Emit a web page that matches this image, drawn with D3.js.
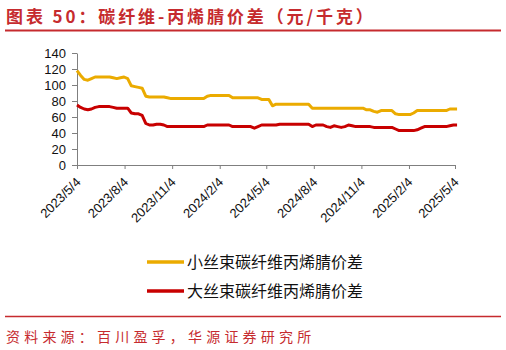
<!DOCTYPE html>
<html>
<head>
<meta charset="utf-8">
<script src="https://cdn.jsdelivr.net/npm/d3@7"></script>
<style>
  html, body { margin: 0; padding: 0; background: #fff; }
  svg { display: block; }
</style>
</head>
<body>
<svg id="chart" width="506" height="350"></svg>
<script>
// ---- Data ----
const startDate = "2023-05-04";   // weekly observations (Thursdays)
const smallTowSpread = [
  118,112,107,106,108,110,110,110,110,110,
  109,108,109,110,108,99,98,97,96,86,
  85,85,85,85,85,84,83,83,83,83,
  83,83,83,83,83,83,86,87,87,87,
  87,87,87,84,84,84,84,84,84,84,
  84,82,82,82,74,76,76,76,76,76,
  76,76,76,76,76,71,71,71,71,71,
  71,71,71,71,71,71,71,71,71,71,
  69,69,67,66,68,68,68,68,64,63,
  63,63,63,65,68,68,68,68,68,68,
  68,68,68,70,70,70
];
const largeTowSpread = [
  75,72,70,69,70,72,73,73,73,73,
  72,71,71,71,71,65,64,64,62,52,
  50,50,51,51,50,48,48,48,48,48,
  48,48,48,48,48,48,50,50,50,50,
  50,50,50,48,48,48,48,48,48,46,
  48,50,50,50,50,50,51,51,51,51,
  51,51,51,51,51,48,50,50,50,48,
  47,49,48,47,48,50,49,48,48,48,
  48,48,47,47,47,47,47,47,45,43,
  43,43,43,43,44,46,48,48,48,48,
  48,48,48,49,50,50
];
const seriesNames = ["小丝束碳纤维丙烯腈价差", "大丝束碳纤维丙烯腈价差"];
const seriesColors = ["#EBAB00", "#C80000"];
const xTickLabels = ["2023/5/4","2023/8/4","2023/11/4","2024/2/4","2024/5/4","2024/8/4","2024/11/4","2025/2/4","2025/5/4"];
const yTicks = [0,20,40,60,80,100,120,140];
const titleText = "图表 50：碳纤维-丙烯腈价差（元/千克）";
const sourceText = "资料来源：百川盈孚，华源证券研究所";

// ---- Build ----
const parse = d3.timeParse("%Y/%m/%d");
const parseISO = d3.timeParse("%Y-%m-%d");
const t0 = parseISO(startDate);
const dates = smallTowSpread.map((_, i) => d3.timeWeek.offset(t0, i));
const tickDates = xTickLabels.map(s => parse(s));

const svg = d3.select("#chart");
const red = "#C62B2E";

const x = d3.scaleTime()
  .domain([tickDates[0], tickDates[tickDates.length - 1]])
  .range([77, 455]);
const y = d3.scaleLinear().domain([0, 140]).range([165, 53]);

// Title
svg.append("text")
  .attr("x", 6).attr("y", 23)
  .attr("fill", red)
  .style("font-family", "'Noto Sans CJK SC', sans-serif")
  .style("font-size", "17px")
  .style("font-weight", "bold")
  .style("letter-spacing", "2.9px")
  .text(titleText);
svg.append("line")
  .attr("x1", 5).attr("x2", 501).attr("y1", 30.5).attr("y2", 30.5)
  .attr("stroke", red).attr("stroke-width", 2);

// Y axis
const yAxis = d3.axisLeft(y).tickValues(yTicks).tickSize(5).tickPadding(6).tickSizeOuter(0);
const gy = svg.append("g").attr("transform", "translate(77,0)").call(yAxis);
gy.select(".domain").attr("stroke", "#7f7f7f");
gy.selectAll(".tick line").attr("stroke", "#7f7f7f");
gy.selectAll("text")
  .style("font-family", "'Liberation Sans', Arial, sans-serif")
  .style("font-size", "13px")
  .attr("fill", "#111");

// X axis
const fmt = d3.timeFormat("%Y/%-m/%-d");
const xAxis = d3.axisBottom(x).tickValues(tickDates).tickFormat(fmt).tickSize(4).tickSizeOuter(0);
const gx = svg.append("g").attr("transform", "translate(0,165)").call(xAxis);
gx.select(".domain").attr("stroke", "#7f7f7f");
gx.selectAll(".tick line").attr("stroke", "#7f7f7f");
gx.selectAll("text")
  .style("font-family", "'Liberation Sans', Arial, sans-serif")
  .style("font-size", "13px")
  .attr("fill", "#111")
  .attr("text-anchor", "end")
  .attr("dy", null)
  .attr("y", null)
  .attr("transform", "translate(4,18) rotate(-45)");

// Lines
const line = d3.line()
  .x((d, i) => x(dates[i]))
  .y(d => y(d));
[smallTowSpread, largeTowSpread].forEach((vals, k) => {
  svg.append("path")
    .datum(vals)
    .attr("fill", "none")
    .attr("stroke", seriesColors[k])
    .attr("stroke-width", 3)
    .attr("stroke-linejoin", "round")
    .attr("d", line);
});

// Legend
const legendY = [262, 291];
seriesNames.forEach((name, k) => {
  svg.append("line")
    .attr("x1", 147).attr("x2", 184)
    .attr("y1", legendY[k]).attr("y2", legendY[k])
    .attr("stroke", seriesColors[k]).attr("stroke-width", 3.5);
  svg.append("text")
    .attr("x", 187).attr("y", legendY[k] + 5.5)
    .attr("fill", "#111")
    .style("font-family", "'Noto Sans CJK SC', sans-serif")
    .style("font-size", "16px")
    .text(name);
});

// Source
svg.append("line")
  .attr("x1", 5).attr("x2", 501).attr("y1", 316.5).attr("y2", 316.5)
  .attr("stroke", red).attr("stroke-width", 1.5);
svg.append("text")
  .attr("x", 6).attr("y", 342)
  .attr("fill", red)
  .style("font-family", "'Noto Sans CJK SC', sans-serif")
  .style("font-size", "14px")
  .style("letter-spacing", "4.2px")
  .text(sourceText);
</script>
</body>
</html>
